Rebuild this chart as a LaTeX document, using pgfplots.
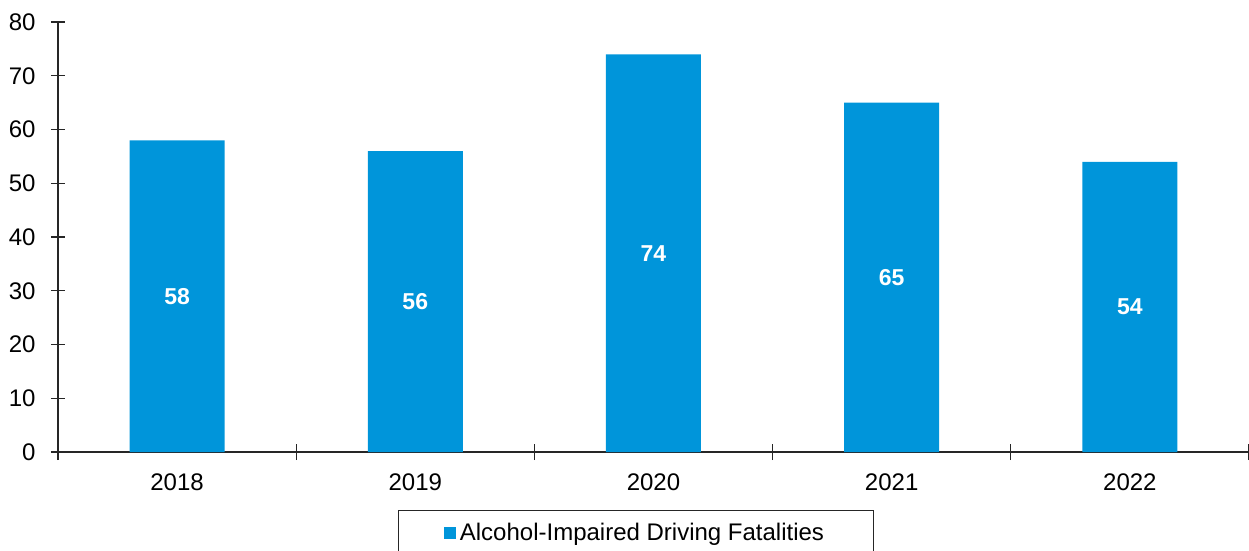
\documentclass[border=0pt]{standalone}
\usepackage{fontspec}
\setmainfont{Liberation Sans}
\usepackage{pgfplots}
\pgfplotsset{compat=1.18}
\definecolor{barblue}{HTML}{0095DA}
\definecolor{axisgray}{HTML}{262626}
\begin{document}
\begin{tikzpicture}
\begin{axis}[
  at={(0pt,0pt)}, anchor=south west,
  width=1191pt, height=430pt, scale only axis,
  xmin=-0.5, xmax=4.5, ymin=0, ymax=80,
  ybar, bar width=95pt,
  axis x line=bottom, axis y line=left,
  axis line style={-, line width=1.3pt, axisgray},
  xtick={0,1,2,3,4},
  xticklabels={2018,2019,2020,2021,2022},
  major x tick style={draw=none},
  minor xtick={-0.5,0.5,1.5,2.5,3.5,4.5},
  minor tick length=16pt,
  major tick length=14pt,
  tick align=center,
  tick style={axisgray, line width=1.3pt},
  ytick={0,10,...,80},
  font=\fontsize{24}{29}\selectfont,
  tick label style={font=\fontsize{24}{29}\selectfont},
  yticklabel style={xshift=-12pt},
  xticklabel style={yshift=-11pt},
  /pgf/number format/assume math mode=true,
  visualization depends on=y \as \rawy,
  nodes near coords,
  nodes near coords style={text=white, font=\fontsize{23}{28}\selectfont\bfseries, anchor=center, shift={(axis direction cs:0,-\rawy/2)}},
  legend style={at={(0.4853,-0.1349)}, anchor=north, draw=axisgray, line width=1pt, inner xsep=45pt, inner ysep=10pt, font=\fontsize{24}{29}\selectfont, nodes={inner sep=3pt}},
  legend image code/.code={\fill[barblue] (0pt,-6pt) rectangle (12pt,6pt);},
  legend style={nodes={inner xsep=4pt}},
]
\addplot[fill=barblue, draw=none] coordinates {(0,58) (1,56) (2,74) (3,65) (4,54)};
\addlegendentry{Alcohol-Impaired Driving Fatalities}
\end{axis}
\pgfresetboundingbox
\path (-58pt,-98pt) rectangle (1191pt,452pt);
\end{tikzpicture}
\end{document}
